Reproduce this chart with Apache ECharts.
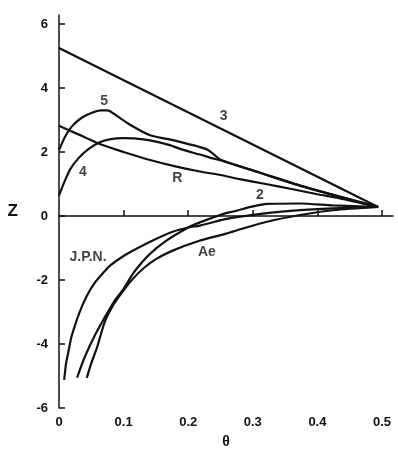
<!DOCTYPE html>
<html>
<head>
<meta charset="utf-8">
<script src="https://cdn.jsdelivr.net/npm/echarts@6/dist/echarts.min.js"></script>
<style>
  html, body { margin: 0; padding: 0; background: #fff; }
  #chart { width: 398px; height: 454px; }
</style>
</head>
<body>
<div id="chart"></div>
<script>
// theta, Z pairs
const curve3 = [[0, 5.25], [0.494, 0.28]];

const curve5 = [
  [0, 2.06], [0.01, 2.5], [0.02, 2.8], [0.035, 3.07], [0.05, 3.22], [0.065, 3.3],
  [0.075, 3.3], [0.09, 3.12], [0.11, 2.85], [0.141, 2.52], [0.17, 2.4], [0.19, 2.3],
  [0.215, 2.17], [0.23, 2.07], [0.24, 1.92], [0.25, 1.76], [0.31, 1.36], [0.373, 0.95],
  [0.494, 0.28]
];

const curve4 = [
  [0, 0.64], [0.008, 1.05], [0.017, 1.45], [0.03, 1.8], [0.045, 2.08], [0.063, 2.3],
  [0.08, 2.4], [0.099, 2.43], [0.12, 2.42], [0.141, 2.36], [0.17, 2.22], [0.19, 2.08],
  [0.218, 1.92], [0.238, 1.8], [0.25, 1.74], [0.31, 1.36], [0.373, 0.95], [0.494, 0.28]
];

const curveR = [
  [0, 2.82], [0.03, 2.55], [0.063, 2.25], [0.1, 2.0], [0.141, 1.75], [0.18, 1.55],
  [0.218, 1.39], [0.25, 1.28], [0.28, 1.15], [0.32, 1.0], [0.358, 0.85], [0.4, 0.68],
  [0.435, 0.55], [0.494, 0.28]
];

const curve2 = [
  [0.028, -5.05], [0.04, -4.4], [0.055, -3.75], [0.07, -3.2], [0.085, -2.68], [0.1, -2.28],
  [0.113, -1.85], [0.122, -1.6], [0.14, -1.2], [0.164, -0.8], [0.2, -0.36], [0.218, -0.2],
  [0.257, 0.08], [0.27, 0.14], [0.3, 0.3], [0.322, 0.38], [0.373, 0.39], [0.424, 0.33],
  [0.494, 0.28]
];

const curveAe = [
  [0.043, -5.06], [0.05, -4.6], [0.059, -4.1], [0.071, -3.3], [0.085, -2.75], [0.1, -2.32],
  [0.115, -1.95], [0.13, -1.65], [0.15, -1.35], [0.175, -1.09], [0.215, -0.79], [0.257, -0.56],
  [0.27, -0.48], [0.322, -0.18], [0.373, 0.03], [0.424, 0.18], [0.494, 0.28]
];

const curveJPN = [
  [0.008, -5.12], [0.011, -4.6], [0.014, -4.3], [0.019, -3.8], [0.025, -3.4], [0.033, -2.95],
  [0.043, -2.5], [0.055, -2.1], [0.071, -1.72], [0.079, -1.55], [0.1, -1.25], [0.122, -1.0],
  [0.15, -0.72], [0.175, -0.5], [0.2, -0.36], [0.218, -0.3], [0.257, -0.1], [0.27, -0.05],
  [0.322, 0.09], [0.373, 0.18], [0.424, 0.24], [0.494, 0.28]
];

// curve labels [theta, Z, text]
const curveLabels = [
  [0.070, 3.58, '5'], [0.037, 1.36, '4'], [0.255, 3.12, '3'], [0.183, 1.18, 'R'],
  [0.311, 0.64, '2'], [0.045, -1.30, 'J.P.N.'], [0.229, -1.12, 'Ae']
];

const xTicks = [0, 0.1, 0.2, 0.3, 0.4, 0.5];
const yTicks = [-6, -4, -2, 0, 2, 4, 6];

const chart = echarts.init(document.getElementById('chart'));

const font = 'Liberation Sans, Arial, sans-serif';

function line(data) {
  return {
    type: 'line',
    data: data,
    showSymbol: false,
    smooth: 0.25,
    lineStyle: {color: '#111', width: 2.2},
    silent: true
  };
}

chart.setOption({
  animation: false,
  grid: {left: 59, right: 5, top: 15, bottom: 38},
  xAxis: {
    type: 'value',
    min: 0,
    max: 0.517,
    name: 'θ',
    nameLocation: 'middle',
    nameGap: 27,
    nameTextStyle: {color: '#111', fontSize: 14, fontWeight: 'bold', fontFamily: font},
    splitLine: {show: false},
    axisLine: {lineStyle: {color: '#111', width: 1.5}},
    axisTick: {inside: true, length: 6, customValues: xTicks.slice(1), lineStyle: {color: '#111', width: 1.5}},
    axisLabel: {
      customValues: xTicks,
      margin: 8,
      color: '#111',
      fontSize: 13,
      fontWeight: 'bold',
      fontFamily: font,
      formatter: v => v === 0 ? '0' : v.toFixed(1)
    }
  },
  yAxis: {
    type: 'value',
    min: -6,
    max: 6.28,
    name: 'Z',
    nameLocation: 'middle',
    nameRotate: 0,
    nameGap: 41,
    nameTextStyle: {color: '#111', fontSize: 17, fontWeight: 'bold', fontFamily: font},
    splitLine: {show: false},
    axisLine: {lineStyle: {color: '#111', width: 1.5}},
    axisTick: {inside: true, length: 6, customValues: yTicks, lineStyle: {color: '#111', width: 1.5}},
    axisLabel: {
      customValues: yTicks,
      margin: 11,
      color: '#111',
      fontSize: 13,
      fontWeight: 'bold',
      fontFamily: font
    }
  },
  series: [
    line(curve3),
    line(curve5),
    line(curve4),
    line(curveR),
    line(curve2),
    line(curveAe),
    line(curveJPN),
    {
      type: 'scatter',
      data: curveLabels,
      symbolSize: 0,
      silent: true,
      label: {
        show: true,
        position: 'inside',
        formatter: p => p.data[2],
        color: '#111',
        fontSize: 14,
        fontWeight: 'bold',
        fontFamily: font
      }
    }
  ]
});
</script>
</body>
</html>
